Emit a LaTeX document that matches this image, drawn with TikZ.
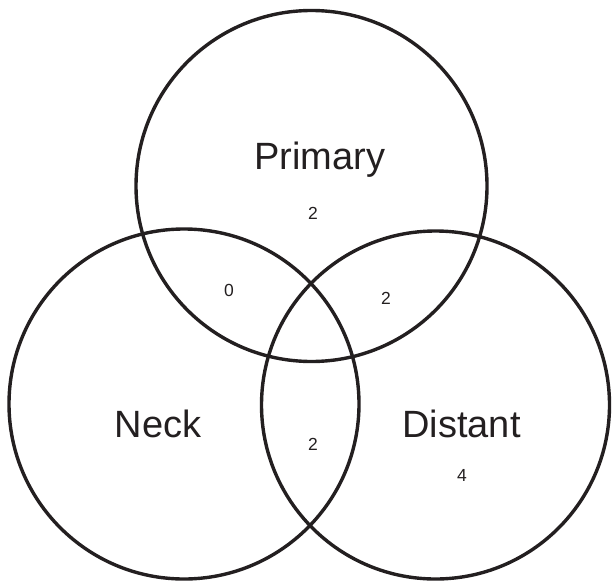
\documentclass[tikz,border=0pt]{standalone}
\usepackage{fontspec}
\setmainfont{Liberation Sans}
\definecolor{ink}{HTML}{231F20}
\tikzset{
  ring/.style={draw=ink, line width=3.4pt},
  setlabel/.style={text=ink, font=\fontsize{38}{40}\selectfont, inner sep=0pt},
  count/.style={text=ink, font=\fontsize{17.5}{19}\selectfont, inner sep=0pt}
}
\begin{document}
\begin{tikzpicture}[x=1pt, y=-1pt]
\useasboundingbox (0,0) rectangle (612,583);
\node[ring, circle, minimum size=351pt, inner sep=0pt] (primary) at (311.5,186) {};
\node[ring, circle, minimum size=350pt, inner sep=0pt] (neck) at (184,404) {};
\node[ring, circle, minimum size=348pt, inner sep=0pt] (distant) at (435.5,405) {};
\node[setlabel, anchor=base] (lp) at (320,169) {Primary};
\node[setlabel, anchor=base] (ln) at (158,437) {Neck};
\node[setlabel, anchor=base] (ld) at (461.5,437) {Distant};
\node[count] (cp) at (313,213) {2};
\node[count] (cpn) at (229,290) {0};
\node[count] (cpd) at (386,298) {2};
\node[count] (cnd) at (313,444) {2};
\node[count] (cd) at (462,475) {4};
\end{tikzpicture}
\end{document}
